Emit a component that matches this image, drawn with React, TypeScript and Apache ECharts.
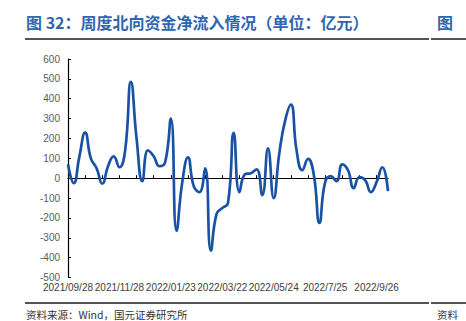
import React, { useEffect, useRef } from "react";
import * as echarts from "echarts";

const title = "图 32：周度北向资金净流入情况（单位：亿元）";
const source = "资料来源：Wind，国元证券研究所";
const tickLabels = ["2021/09/28", "2021/11/28", "2022/01/23", "2022/03/22", "2022/05/24", "2022/7/25", "2022/9/26"];
const weeks = [
  "w0", "w1", "w2", "w3", "w4", "w5", "w6", "w7", "w8", "w9",
  "w10", "w11", "w12", "w13", "w14", "w15", "w16", "w17", "w18", "w19",
  "w20", "w21", "w22", "w23", "w24", "w25", "w26", "w27", "w28", "w29",
  "w30", "w31", "w32", "w33", "w34", "w35", "w36", "w37", "w38", "w39",
  "w40", "w41", "w42", "w43", "w44", "w45", "w46", "w47", "w48", "w49",
  "w50", "w51", "w52", "w53", "w54", "w55", "w56",
];
const netInflow = [
  70, -25, 110, 230, 100, 50, -28, 60, 110, 55,
  140, 485, 200, -15, 140, 110, 60, 80, 300, -265,
  -20, 105, -40, -70, 50, -365, -180, -150, -125, 228,
  -70, 20, 25, 45, -85, 150, -100, 130, 290, 370,
  140, 40, 97, 20, -225, -20, 10, -15, 70, 40,
  -50, 5, -10, -70, -20, 55, -65,
];

const LABEL_STEP = 9;

export default function App() {
  const ref = useRef<HTMLDivElement>(null);
  useEffect(() => {
    if (!ref.current) return;
    const chart = echarts.init(ref.current, null, { renderer: "svg" });
    const cjk = '"Noto Sans CJK SC", sans-serif';
    const latin = '"Liberation Sans", Arial, sans-serif';
    chart.setOption({
      animation: false,
      backgroundColor: "#ffffff",
      grid: { left: 68, right: 78, top: 59, bottom: 43.5, containLabel: false },
      xAxis: [
        {
          type: "category",
          data: weeks,
          boundaryGap: false,
          axisLine: { show: true, onZero: true, lineStyle: { color: "#000000", width: 1.2 } },
          axisTick: { show: true, inside: true, interval: 2, length: 3, lineStyle: { color: "#000000" } },
          axisLabel: { show: false },
          splitLine: { show: false },
        },
        {
          type: "category",
          data: weeks,
          boundaryGap: false,
          position: "bottom",
          axisLine: { show: false, onZero: false },
          axisTick: { show: false },
          splitLine: { show: false },
          axisLabel: {
            show: true,
            interval: 0,
            margin: 5,
            color: "#404040",
            fontSize: 10,
            fontFamily: latin,
            formatter: (_v: string, i: number) => (i % LABEL_STEP === 0 ? tickLabels[i / LABEL_STEP] ?? "" : ""),
          },
        },
      ],
      yAxis: {
        type: "value",
        min: -500,
        max: 600,
        interval: 100,
        axisLine: { show: true, lineStyle: { color: "#000000", width: 1.2 } },
        axisTick: { show: true, inside: true, length: 3, lineStyle: { color: "#000000" } },
        splitLine: { show: false },
        axisLabel: { color: "#595959", fontSize: 10, fontFamily: latin, margin: 8 },
      },
      series: [
        {
          type: "line",
          xAxisIndex: 0,
          data: netInflow,
          smooth: 0.5,
          symbol: "none",
          lineStyle: { color: "#1a52a3", width: 2.7 },
        },
      ],
      graphic: [
        {
          type: "text",
          left: 26,
          top: 14,
          style: { text: title, fill: "#2f66b0", font: `bold 16px ${cjk}` },
        },
        {
          type: "text",
          left: 437,
          top: 14,
          style: { text: "图", fill: "#2f66b0", font: `bold 16px ${cjk}` },
        },
        { type: "line", shape: { x1: 25, y1: 39, x2: 429, y2: 39 }, style: { stroke: "#1a1a1a", lineWidth: 1.7 } },
        { type: "line", shape: { x1: 431, y1: 39, x2: 466, y2: 39 }, style: { stroke: "#1a1a1a", lineWidth: 1.7 } },
        { type: "line", shape: { x1: 25, y1: 303, x2: 429, y2: 303 }, style: { stroke: "#1a1a1a", lineWidth: 1.7 } },
        { type: "line", shape: { x1: 431, y1: 303, x2: 466, y2: 303 }, style: { stroke: "#1a1a1a", lineWidth: 1.7 } },
        {
          type: "text",
          left: 26,
          top: 309,
          style: { text: source, fill: "#333333", font: `10.5px ${cjk}` },
        },
        {
          type: "text",
          left: 437,
          top: 309,
          style: { text: "资料", fill: "#333333", font: `10.5px ${cjk}` },
        },
      ],
    });
    return () => chart.dispose();
  }, []);
  return (
    <div
      ref={ref}
      style={{ position: "fixed", left: 0, top: 0, width: 466, height: 321, background: "#ffffff" }}
    />
  );
}
